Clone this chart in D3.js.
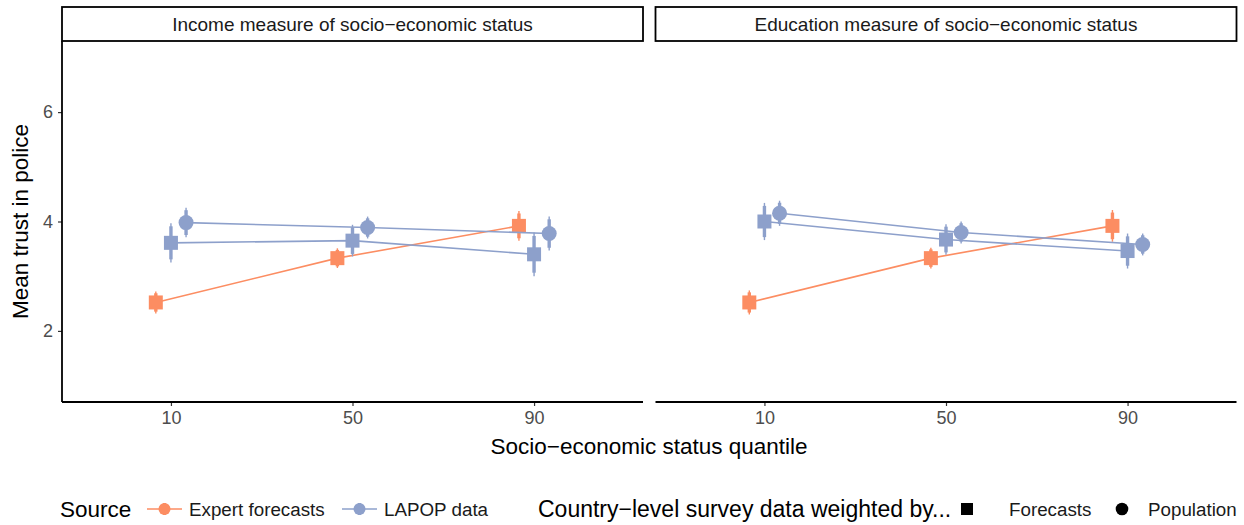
<!DOCTYPE html>
<html>
<head>
<meta charset="utf-8">
<script src="https://cdn.jsdelivr.net/npm/d3@7"></script>
<style>
  body { margin: 0; background: white; }
  text { font-family: "Liberation Sans", Arial, sans-serif; }
</style>
</head>
<body>
<svg id="chart" width="1244" height="525"></svg>
<script>
// quantile categories and facets
var quantiles = ["10", "50", "90"];
var panels = ["Income measure of socio\u2212economic status", "Education measure of socio\u2212economic status"];
var yTicks = [2, 4, 6];

// income panel: means and half-widths of the outer interval
var incExpert = [2.52, 3.33, 3.92],      incExpertErr = [0.20, 0.18, 0.27];
var incLapopFc = [3.61, 3.65, 3.40],     incLapopFcErr = [0.36, 0.29, 0.40];
var incLapopPop = [3.98, 3.89, 3.78],    incLapopPopErr = [0.27, 0.20, 0.31];
// education panel
var eduExpert = [2.52, 3.33, 3.92],      eduExpertErr = [0.22, 0.19, 0.29];
var eduLapopFc = [4.00, 3.67, 3.46],     eduLapopFcErr = [0.34, 0.28, 0.32];
var eduLapopPop = [4.15, 3.80, 3.58],    eduLapopPopErr = [0.23, 0.20, 0.20];

var orange = "#FC8D62", blue = "#8DA0CB";

function series(vals, errs, source, weight, dodge) {
  return vals.map(function(v, i) {
    return {q: quantiles[i], v: v, e: errs[i], source: source, weight: weight, dodge: dodge};
  });
}

var panelData = [
  [series(incExpert, incExpertErr, "expert", "forecast", -1),
   series(incLapopFc, incLapopFcErr, "lapop", "forecast", 0),
   series(incLapopPop, incLapopPopErr, "lapop", "population", 1)],
  [series(eduExpert, eduExpertErr, "expert", "forecast", -1),
   series(eduLapopFc, eduLapopFcErr, "lapop", "forecast", 0),
   series(eduLapopPop, eduLapopPopErr, "lapop", "population", 1)]
];

var svg = d3.select("#chart");
var pTop = 41, pBottom = 402, panelW = 581;
var panelX = [62, 655.5];

var y = d3.scaleLinear().domain([0.7, 7.3]).range([pBottom, pTop]);
// ggplot style discrete expansion: 0.6 units each side
var x = d3.scalePoint().domain(quantiles).range([0, panelW]).padding(0.6);
var unit = x.step();
var dodgeW = 0.0833 * unit;

var colorOf = function(s) { return s == "expert" ? orange : blue; };

panels.forEach(function(title, p) {
  var g = svg.append("g").attr("transform", "translate(" + panelX[p] + ",0)");

  // strip
  g.append("rect")
    .attr("x", 0).attr("y", 7)
    .attr("width", panelW).attr("height", 34)
    .attr("fill", "white").attr("stroke", "black").attr("stroke-width", 1.8);
  g.append("text")
    .attr("x", panelW / 2).attr("y", 30.5)
    .attr("text-anchor", "middle")
    .attr("font-size", 19).attr("fill", "#1a1a1a")
    .text(title);

  // x axis
  var xa = g.append("g").attr("transform", "translate(0," + pBottom + ")")
    .call(d3.axisBottom(x).tickSize(4).tickPadding(5));
  xa.select(".domain").remove();
  xa.append("line").attr("x1", 0).attr("x2", panelW).attr("stroke", "black").attr("stroke-width", 1.8);
  xa.selectAll(".tick line").attr("stroke", "#333").attr("stroke-width", 1.2);
  xa.selectAll(".tick text").attr("font-size", 18).attr("fill", "#4d4d4d")
    .attr("font-family", "Liberation Sans, Arial, sans-serif");

  if (p == 0) {
    var ya = g.append("g").call(d3.axisLeft(y).tickValues(yTicks).tickFormat(d3.format("d")).tickSize(4).tickPadding(5));
    ya.select(".domain").remove();
    ya.append("line").attr("y1", pTop).attr("y2", pBottom).attr("stroke", "black").attr("stroke-width", 1.8);
    ya.selectAll(".tick line").attr("stroke", "#333").attr("stroke-width", 1.2);
    ya.selectAll(".tick text").attr("font-size", 18).attr("fill", "#4d4d4d")
      .attr("font-family", "Liberation Sans, Arial, sans-serif");
  }

  var px = function(d) { return x(d.q) + d.dodge * dodgeW; };

  var line = d3.line().x(px).y(function(d) { return y(d.v); });

  panelData[p].forEach(function(s) {
    var c = colorOf(s[0].source);
    g.append("path").datum(s)
      .attr("d", line)
      .attr("fill", "none").attr("stroke", c).attr("stroke-width", 1.6);

    // outer interval (thin) and inner interval (thick)
    g.selectAll(null).data(s).enter().append("line")
      .attr("x1", px).attr("x2", px)
      .attr("y1", function(d) { return y(d.v - d.e); })
      .attr("y2", function(d) { return y(d.v + d.e); })
      .attr("stroke", c).attr("stroke-width", 1.4);
    g.selectAll(null).data(s).enter().append("line")
      .attr("x1", px).attr("x2", px)
      .attr("y1", function(d) { return y(d.v - d.e * 0.84); })
      .attr("y2", function(d) { return y(d.v + d.e * 0.84); })
      .attr("stroke", c).attr("stroke-width", 3.4);

    s.forEach(function(d) {
      if (d.weight == "forecast") {
        g.append("rect")
          .attr("x", px(d) - 7).attr("y", y(d.v) - 7)
          .attr("width", 14).attr("height", 14)
          .attr("fill", c);
      } else {
        g.append("circle")
          .attr("cx", px(d)).attr("cy", y(d.v)).attr("r", 7.5)
          .attr("fill", c);
      }
    });
  });
});

// axis titles
svg.append("text")
  .attr("transform", "translate(28," + (pTop + pBottom) / 2 + ") rotate(-90)")
  .attr("text-anchor", "middle").attr("font-size", 22.5)
  .text("Mean trust in police");
svg.append("text")
  .attr("x", 649).attr("y", 454)
  .attr("text-anchor", "middle").attr("font-size", 22.5)
  .text("Socio\u2212economic status quantile");

// legend
var ly = 509;
var leg = svg.append("g");
leg.append("text").attr("x", 60).attr("y", ly + 8).attr("font-size", 22.5).text("Source");

var srcKeys = [{label: "Expert forecasts", c: orange, x: 147}, {label: "LAPOP data", c: blue, x: 342}];
srcKeys.forEach(function(k) {
  leg.append("line").attr("x1", k.x).attr("x2", k.x + 35).attr("y1", ly).attr("y2", ly)
    .attr("stroke", k.c).attr("stroke-width", 1.6);
  leg.append("line").attr("x1", k.x + 17.5).attr("x2", k.x + 17.5).attr("y1", ly - 6).attr("y2", ly + 6)
    .attr("stroke", k.c).attr("stroke-width", 3);
  leg.append("circle").attr("cx", k.x + 17.5).attr("cy", ly).attr("r", 6).attr("fill", k.c);
  leg.append("text").attr("x", k.x + 42).attr("y", ly + 6.5).attr("font-size", 18.8).attr("fill", "#1a1a1a").text(k.label);
});

leg.append("text").attr("x", 538).attr("y", ly + 8).attr("font-size", 23)
  .text("Country\u2212level survey data weighted by...");
leg.append("rect").attr("x", 961).attr("y", ly - 6).attr("width", 12).attr("height", 12).attr("fill", "black");
leg.append("text").attr("x", 1009).attr("y", ly + 6.5).attr("font-size", 18.8).attr("fill", "#1a1a1a").text("Forecasts");
leg.append("circle").attr("cx", 1122).attr("cy", ly).attr("r", 6.3).attr("fill", "black");
leg.append("text").attr("x", 1148).attr("y", ly + 6.5).attr("font-size", 18.8).attr("fill", "#1a1a1a").text("Population");
</script>
</body>
</html>
